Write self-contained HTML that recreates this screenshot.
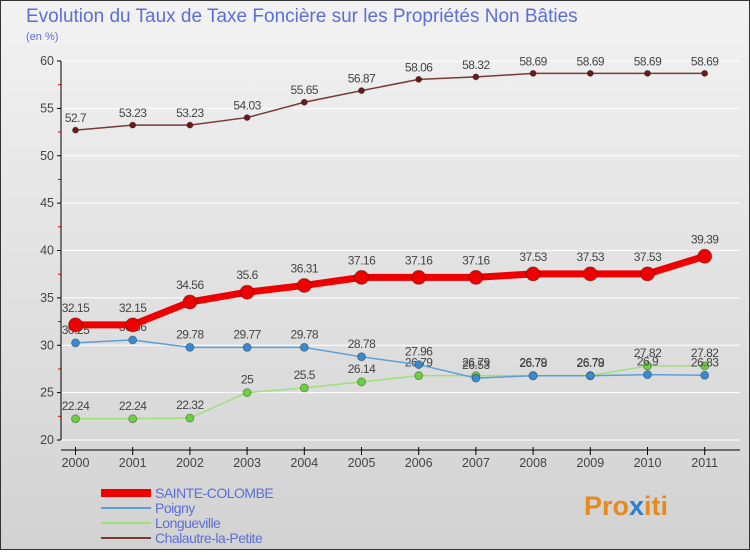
<!DOCTYPE html>
<html><head><meta charset="utf-8"><style>
body{margin:0;width:750px;height:550px;overflow:hidden;font-family:"Liberation Sans",sans-serif}
svg text{font-family:"Liberation Sans",sans-serif}
</style></head><body>
<svg id="chart" width="750" height="550">
<defs><linearGradient id="bg" x1="0" y1="0" x2="0" y2="1"><stop offset="0" stop-color="#f2f2f2"/><stop offset="1" stop-color="#d2d2d2"/></linearGradient></defs>
<rect x="0.5" y="0.5" width="749" height="549" fill="url(#bg)" stroke="#333"/>
<text x="26" y="22" font-size="19" fill="#5b6fd6">Evolution du Taux de Taxe Foncière sur les Propriétés Non Bâties</text>
<text x="26" y="40" font-size="11" fill="#5b6fd6">(en %)</text>
<g id="grid"></g><g id="axes"></g><g id="series"></g><g id="legend"></g>
<text x="584" y="515" font-size="27" font-weight="bold" fill="#e58a1f">Pro<tspan fill="#2a7fd0">x</tspan>iti</text>
</svg>
<script>
const years=[2000,2001,2002,2003,2004,2005,2006,2007,2008,2009,2010,2011];
const yTicks=[20,25,30,35,40,45,50,55,60];
const sainteColombe=[32.15,32.15,34.56,35.6,36.31,37.16,37.16,37.16,37.53,37.53,37.53,39.39];
const poigny=[30.25,30.56,29.78,29.77,29.78,28.78,27.96,26.53,26.78,26.78,26.9,26.83];
const longueville=[22.24,22.24,22.32,25,25.5,26.14,26.79,26.79,26.79,26.79,27.82,27.82];
const chalautre=[52.7,53.23,53.23,54.03,55.65,56.87,58.06,58.32,58.69,58.69,58.69,58.69];
const NS="http://www.w3.org/2000/svg";
const X=i=>75.5+i*57.2;
const Y=v=>440-(v-20)*9.475;
function mk(t,a,p){const e=document.createElementNS(NS,t);for(const k in a)e.setAttribute(k,a[k]);p.appendChild(e);return e;}
const grid=document.getElementById('grid'),axes=document.getElementById('axes');
yTicks.forEach(v=>{
 const l=mk('line',{x1:61,x2:740,y1:Y(v),y2:Y(v),stroke:'#fff','stroke-width':1},grid);
 
 
 mk('line',{x1:57,x2:61,y1:Y(v),y2:Y(v),stroke:'#000'},axes);
 const t=mk('text',{x:54,y:Y(v)+4,'text-anchor':'end','font-size':12.5,fill:'#444'},axes);t.textContent=v;
 
 
 if(v<60)mk('line',{x1:58,x2:61,y1:Y(v+2.5),y2:Y(v+2.5),stroke:'#e00'},axes);
});
mk('line',{x1:61,x2:61,y1:Y(60),y2:440,stroke:'#000'},axes);
mk('line',{x1:61,x2:740,y1:450,y2:450,stroke:'#000'},axes);
years.forEach((y,i)=>{
 mk('line',{x1:X(i),x2:X(i),y1:447,y2:455,stroke:'#000'},axes);
 const t=mk('text',{x:X(i),y:467,'text-anchor':'middle','font-size':12.5,fill:'#444'},axes);t.textContent=y;
 
 
});
const ser=document.getElementById('series');
function draw(vals,color,w,r,dot,name,labelAbove){
 const g=mk('g',{},ser);
 
 
 mk('polyline',{points:vals.map((v,i)=>X(i)+','+Y(v)).join(' '),fill:'none',stroke:color,'stroke-width':w},g);
 vals.forEach((v,i)=>{
  const c=mk('circle',{cx:X(i),cy:Y(v),r:r,fill:dot,stroke:'rgba(0,0,0,0.3)','stroke-width':1},g);
  
  
  const t=mk('text',{x:X(i),y:Y(v)-labelAbove,'text-anchor':'middle','font-size':12,fill:'#444','letter-spacing':'-0.5'},g);t.textContent=v;
  
  
 });
}
draw(chalautre,'#7a3a3a',1.5,3,'#6a1a1a','chalautre',8);
draw(longueville,'#9ee07a',1.5,4,'#6cd040','longueville',9);
draw(poigny,'#5aa0d8',1.5,4,'#3a8ad0','poigny',9);
draw(sainteColombe,'#ee0000',7,7,'#ee0000','sainte-colombe',13);
const lg=document.getElementById('legend');
[['SAINTE-COLOMBE','#ee0000',8],['Poigny','#5aa0d8',2],['Longueville','#9ee07a',2],['Chalautre-la-Petite','#7a3a3a',2]].forEach((d,i)=>{
 const y=493+i*15;
 const g=mk('g',{},lg);
 
 
 mk('line',{x1:101,x2:151,y1:y,y2:y,stroke:d[1],'stroke-width':d[2]},g);
 const t=mk('text',{x:155,y:y+5,'font-size':14,fill:'#5b6fd6','letter-spacing':'-0.5'},g);t.textContent=d[0];
});
</script>
</body></html>
